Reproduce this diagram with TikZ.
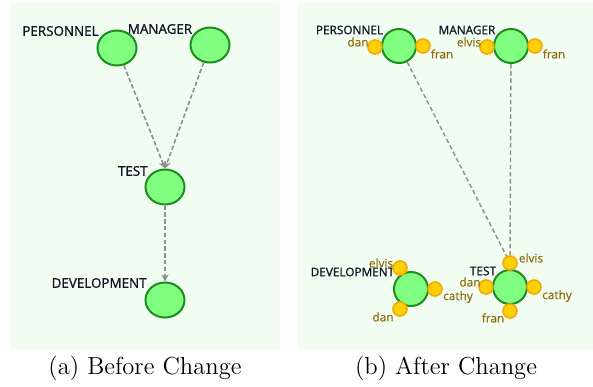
\documentclass[tikz,border=0pt]{standalone}
\usepackage{fontspec}
\newfontfamily\labfont{Open Sans}[FakeBold=1.2]
\newfontfamily\perfont{Open Sans}[FakeBold=0.3]
\usetikzlibrary{shapes.geometric,arrows.meta}
\definecolor{bgc}{HTML}{F0FDF0}
\definecolor{gfill}{HTML}{80FF80}
\definecolor{gline}{HTML}{1E8C1E}
\definecolor{yfill}{HTML}{FFD000}
\definecolor{yline}{HTML}{F2A900}
\definecolor{ptext}{HTML}{8C6D0F}
\definecolor{ntext}{HTML}{141428}
\definecolor{egray}{HTML}{8E8E8E}
\tikzset{
  bigA/.style={ellipse, draw=gline, fill=gfill, line width=1pt, minimum width=19.5pt, minimum height=17.5pt, inner sep=0pt},
  bigB/.style={circle, draw=gline, fill=gfill, line width=1pt, minimum size=17pt, inner sep=0pt},
  yel/.style={circle, draw=yline, fill=yfill, line width=0.8pt, minimum size=7pt, inner sep=0pt},
  lblA/.style={text=ntext, font=\labfont\fontsize{6.7}{8}\selectfont, inner sep=0pt},
  lblB/.style={text=ntext, font=\labfont\fontsize{5.9}{7}\selectfont, inner sep=0pt},
  per/.style={text=ptext, font=\perfont\fontsize{5.9}{7}\selectfont, inner sep=0pt},
  edgeA/.style={draw=egray, line width=0.8pt, dash pattern=on 2.2pt off 1.2pt, -{Stealth[length=3.5pt,width=3.5pt]}},
  edgeB/.style={draw=egray, line width=0.7pt, dash pattern=on 2.2pt off 1.4pt},
  captext/.style={font=\fontsize{12.3}{14}\selectfont, inner sep=0pt}
}
\begin{document}
\begin{tikzpicture}[x=0.5pt,y=-0.5pt]
\useasboundingbox (0,0) rectangle (593,386);
\fill[white] (0,0) rectangle (593,386);
\fill[bgc] (11,3) rectangle (280,349);
\fill[bgc] (297,3) rectangle (593,349);

% ---- panel (a)
\node[lblA, anchor=east] (lpa) at (99,31) {PERSONNEL};
\node[lblA] (lma) at (160,29) {MANAGER};
\node[lblA, anchor=east] (lta) at (148,171) {TEST};
\node[lblA, anchor=east] (lda) at (147,283) {DEVELOPMENT};
\node[bigA] (pa) at (117,48) {};
\node[bigA] (ma) at (210,45) {};
\node[bigA] (ta) at (165,187) {};
\node[bigA] (da) at (165,300) {};
\draw[edgeA] (pa) -- (ta.north);
\draw[edgeA] (ma) -- (ta.north);
\draw[edgeA] (ta) -- (da.north);

% ---- panel (b)
\node[lblB] (lpb) at (349.5,30) {PERSONNEL};
\node[lblB] (lmb) at (467,30) {MANAGER};
\node[lblB] (ltb) at (483,271) {TEST};
\node[lblB] (ldb) at (352.5,272) {DEVELOPMENT};

\node[bigB] (pb) at (399,46) {};
\node[yel] (pbl) at (375,47) {};
\node[yel] (pbr) at (423,46) {};
\node[per] (pbl-t) at (358,42) {dan};
\node[per] (pbr-t) at (442,54) {fran};

\node[bigB] (mb) at (511,46) {};
\node[yel] (mbl) at (487,47) {};
\node[yel] (mbr) at (535,46) {};
\node[per] (mbl-t) at (469,42) {elvis};
\node[per] (mbr-t) at (554,54) {fran};

\node[bigB] (tb) at (510,287) {};
\node[yel] (tbt) at (510,263) {};
\node[yel] (tbl) at (486,287) {};
\node[yel] (tbr) at (534,287) {};
\node[yel] (tbb) at (510,311) {};
\node[per] (tbt-t) at (531,258) {elvis};
\node[per] (tbl-t) at (470,282) {dan};
\node[per] (tbr-t) at (557,296) {cathy};
\node[per] (tbb-t) at (493,318) {fran};

\node[bigB] (db) at (411,289) {};
\node[yel] (dbt) at (400,268) {};
\node[yel] (dbr) at (435,289) {};
\node[yel] (dbb) at (400,309) {};
\node[per] (dbt-t) at (381,263) {elvis};
\node[per] (dbr-t) at (458,297) {cathy};
\node[per] (dbb-t) at (383,317) {dan};

\draw[edgeB] (pb) -- (tbt);
\draw[edgeB] (mb) -- (tbt);

% ---- captions
\node[captext] (capa) at (145,368) {(a) Before Change};
\node[captext] (capb) at (446,368) {(b) After Change};
\end{tikzpicture}
\end{document}
